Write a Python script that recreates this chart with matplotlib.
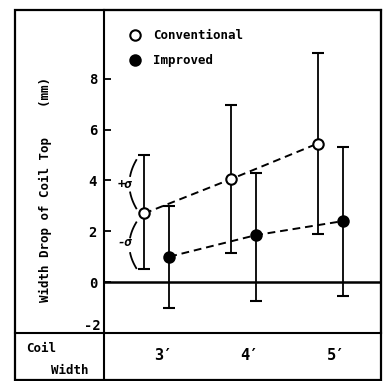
import numpy as np
import matplotlib
matplotlib.use("Agg")
import matplotlib.pyplot as plt
import matplotlib.transforms as mtransforms
from matplotlib.lines import Line2D
from matplotlib.patches import Rectangle

# data
coil_widths = ["3′", "4′", "5′"]
conv_mean = [2.7, 4.05, 5.45]
conv_upper = [5.0, 6.95, 9.0]
conv_lower = [0.5, 1.15, 1.9]
impr_mean = [1.0, 1.85, 2.4]
impr_upper = [3.0, 4.3, 5.3]
impr_lower = [-1.0, -0.75, -0.55]
y_ticks = [-2, 0, 2, 4, 6, 8]

W, H = 386, 381
MONO = ["DejaVu Sans Mono", "DejaVu Sans"]
plt.rcParams["font.family"] = MONO
plt.rcParams["font.weight"] = "bold"


def fx(px):
    return px / W


def fy(py):
    return 1 - py / H


def bracket(ax, xc, y0, y1, depth=0.08):
    """Draw a '(' shaped bracket with a gap in the middle for the label."""
    for ta, tb in [(0.0, 0.33), (0.67, 1.0)]:
        t = np.linspace(ta, tb, 20)
        yy = y0 + (y1 - y0) * t
        xx = xc - depth * 4 * t * (1 - t)
        ax.plot(xx, yy, color="black", lw=1.3)


fig = plt.figure(figsize=(W / 100, H / 100), dpi=100)
ax = fig.add_axes([fx(104), fy(333), fx(381) - fx(104), fy(10) - fy(333)])

x = np.arange(len(coil_widths))
off = 0.145
dash = (0, (4, 2.5))

for xs, mean, lo, up, face in [
    (x - off, conv_mean, conv_lower, conv_upper, "white"),
    (x + off, impr_mean, impr_lower, impr_upper, "black"),
]:
    mean = np.array(mean)
    ax.plot(xs, mean, ls=dash, color="black", lw=1.4, zorder=2)
    ax.errorbar(xs, mean, yerr=[mean - np.array(lo), np.array(up) - mean],
                fmt="o", mfc=face, mec="black", ms=7.5, mew=1.5,
                ecolor="black", elinewidth=1.3, capsize=4, capthick=1.5,
                zorder=3)

ax.axhline(0, color="black", lw=1.8, zorder=1)

# +sigma / -sigma brackets on the first conventional point
xb = x[0] - off - 0.09
bracket(ax, xb, conv_mean[0] + 0.2, conv_upper[0] - 0.2)
bracket(ax, xb, conv_lower[0] + 0.05, conv_mean[0] - 0.35)
ax.text(xb - 0.13, (conv_mean[0] + conv_upper[0]) / 2, "+σ", ha="center",
        va="center", fontsize=9, fontstyle="italic")
ax.text(xb - 0.13, (conv_mean[0] + conv_lower[0]) / 2 - 0.05, "-σ", ha="center",
        va="center", fontsize=9, fontstyle="italic")

ax.set_xlim(-0.607, 2.584)
ax.set_ylim(-2, 10.7)
ax.set_xticks([])
ax.set_yticks(y_ticks, ["" if t == -2 else str(t) for t in y_ticks])
ax.tick_params(axis="y", direction="in", length=5, width=1.3, labelsize=10, pad=5)
for lbl in ax.get_yticklabels():
    lbl.set_fontweight("bold")
for sp in ax.spines.values():
    sp.set_linewidth(1.5)

# the -2 label sits just above the bottom line
ylab_trans = mtransforms.blended_transform_factory(fig.transFigure, ax.transData)
ax.text(fx(101), -2, "-2", transform=ylab_trans, ha="right", va="bottom",
        fontsize=10, fontweight="bold", clip_on=False)

# legend
handles = [
    Line2D([], [], ls="none", marker="o", mfc="white", mec="black", ms=7.5, mew=1.5),
    Line2D([], [], ls="none", marker="o", mfc="black", mec="black", ms=7.5, mew=1.5),
]
ax.legend(handles, ["Conventional", "Improved"], loc="upper left",
          bbox_to_anchor=(fx(122), fy(23)), bbox_transform=fig.transFigure,
          frameon=False, handlelength=1.0, handletextpad=1.0,
          labelspacing=0.95, borderpad=0, prop={"family": MONO, "weight": "bold", "size": 9})

# y label
fig.text(fx(45), fy(190), "Width Drop of Coil Top    (mm)", rotation=90,
         ha="center", va="center", fontsize=9, fontweight="bold")

# table row under the chart
fig.add_artist(Rectangle((fx(15), fy(380)), fx(381) - fx(15), fy(10) - fy(380),
                         transform=fig.transFigure, fill=False, lw=1.6))
fig.add_artist(Line2D([fx(15), fx(104)], [fy(333), fy(333)],
                      transform=fig.transFigure, color="black", lw=1.5))
fig.add_artist(Line2D([fx(104), fx(104)], [fy(333), fy(380)],
                      transform=fig.transFigure, color="black", lw=1.5))
fig.text(fx(26), fy(349), "Coil", ha="left", va="center", fontsize=9, fontweight="bold")
fig.text(fx(51), fy(371), "Width", ha="left", va="center", fontsize=9, fontweight="bold")

trans = mtransforms.blended_transform_factory(ax.transData, fig.transFigure)
for i, lab in enumerate(coil_widths):
    ax.text(x[i] + 0.07, fy(356), lab, transform=trans, ha="center", va="center",
            fontsize=11, fontweight="bold", clip_on=False)

fig.savefig("out.png", dpi=100)
